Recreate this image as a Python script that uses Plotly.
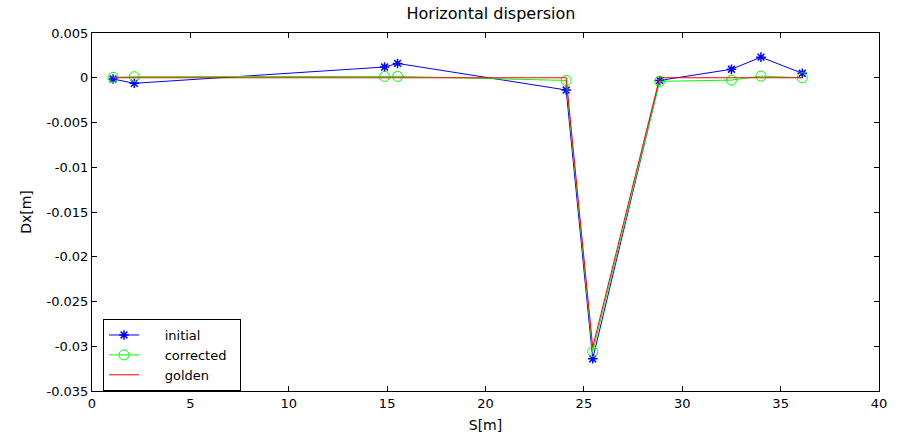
import plotly.graph_objects as go

s_pos = [1.07, 2.15, 14.87, 15.53, 24.1, 25.45, 28.85, 32.5, 34.0, 36.1]
dx_initial = [-0.00014, -0.00062, 0.0012, 0.0016, -0.00137, -0.0314, -0.0003, 0.00095, 0.0023, 0.0005]
dx_corrected = [0.00004, 0.00012, 0.00015, 0.00015, -0.0003, -0.0306, -0.0004, -0.00026, 0.00018, 0.0]
dx_golden = [0.0, 0.0, 0.0, 0.0, 0.0, -0.0301, 0.0, 0.0, 0.0, 0.0]

x_ticks = [0, 5, 10, 15, 20, 25, 30, 35, 40]
y_ticks = [0.005, 0, -0.005, -0.01, -0.015, -0.02, -0.025, -0.03, -0.035]
y_ticktext = ["0.005", "0", "-0.005", "-0.01", "-0.015", "-0.02", "-0.025", "-0.03", "-0.035"]

FONT = "DejaVu Sans"
NB = "\u00a0"
LEAD = NB * 5
TRAIL = NB * 2

fig = go.Figure()
fig.add_trace(go.Scatter(x=s_pos, y=dx_initial, name=LEAD + "initial" + TRAIL, mode="lines+markers",
                         line=dict(color="rgb(0,0,255)", width=1),
                         marker=dict(symbol="asterisk-open", size=8, color="rgb(0,0,255)",
                                     line=dict(color="rgb(0,0,255)", width=1.5))))
fig.add_trace(go.Scatter(x=s_pos, y=dx_corrected, name=LEAD + "corrected" + TRAIL, mode="lines+markers",
                         line=dict(color="rgb(0,255,0)", width=1),
                         marker=dict(symbol="circle-open", size=10, color="rgb(0,255,0)",
                                     line=dict(color="rgb(0,255,0)", width=1))))
fig.add_trace(go.Scatter(x=s_pos, y=dx_golden, name=LEAD + "golden" + TRAIL, mode="lines",
                         line=dict(color="rgb(255,0,0)", width=1)))

axis_common = dict(showgrid=False, zeroline=False, showline=True, linecolor="black",
                   linewidth=1, mirror="ticks", ticks="inside", ticklen=5, automargin=False,
                   tickcolor="black", tickfont=dict(family=FONT, size=13, color="black"))

fig.update_layout(
    width=911, height=438,
    margin=dict(l=92, r=32, t=33, b=47),
    paper_bgcolor="white", plot_bgcolor="white",
    font=dict(family=FONT, size=13, color="black"),
    title=dict(text="Horizontal dispersion", x=491 / 911, xanchor="center", y=0.983, yanchor="top",
               font=dict(family=FONT, size=16, color="black")),
    xaxis=dict(range=[0, 40], tickvals=x_ticks,
               title=dict(text="S[m]", font=dict(family=FONT, size=14), standoff=10), **axis_common),
    yaxis=dict(range=[-0.035, 0.005], tickvals=y_ticks, ticktext=y_ticktext,
               title=dict(text="Dx[m]", font=dict(family=FONT, size=14), standoff=11), **axis_common),
    legend=dict(x=0.014, y=0.201, xanchor="left", yanchor="top",
                bgcolor="white", bordercolor="black", borderwidth=1,
                font=dict(family=FONT, size=13, color="black"),
                tracegroupgap=0, itemwidth=30),
    showlegend=True,
)

fig.write_html("out.html")
